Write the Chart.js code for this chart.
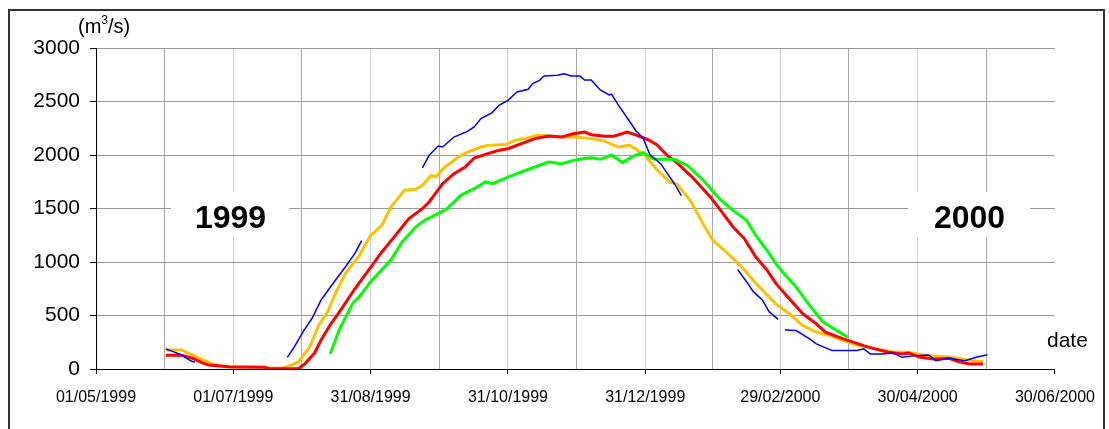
<!DOCTYPE html>
<html>
<head>
<meta charset="utf-8">
<script src="https://cdn.jsdelivr.net/npm/chart.js@4.4.1/dist/chart.umd.min.js"></script>
<style>
  html, body { margin: 0; padding: 0; background: #fff; }
  canvas { display: block; }
</style>
</head>
<body>
<canvas id="flow" width="1109" height="429"></canvas>
<script>
// days counted from 01/05/1999
const majorDays = [0, 61, 122, 183, 244, 304, 365, 426];
const minorDays = [30.5, 91.5, 152.5, 213.5, 274, 334.5, 395.5];
const tickLabels = ['01/05/1999', '01/07/1999', '31/08/1999', '31/10/1999', '31/12/1999', '29/02/2000', '30/04/2000', '30/06/2000'];
const yearLabels = ['1999', '2000'];

const blueDays = [31, 34, 38, 41, 43, 44, 60,
    85, 88, 92, 96, 100, 106, 111, 115, 118, 130,
    145, 148, 152, 154, 159, 165, 168, 171, 176, 179, 183, 187, 192, 194, 197, 199, 205, 208, 211, 215, 217, 220, 224, 228, 229, 232, 236, 240, 243, 246, 251, 254, 257, 260, 270,
    285, 289, 292, 296, 299, 303, 304.5,
    306, 311, 317, 320, 327, 338, 341, 344, 349, 354, 358, 364, 370, 373, 379, 386, 391, 396];
const blueFlow = [187, 165, 131, 90, 68, 68, null,
    109, 203, 349, 474, 645, 820, 960, 1080, 1200, null,
    1879, 1997, 2084, 2075, 2168, 2221, 2262, 2340, 2396, 2464, 2511, 2589, 2614, 2667, 2698, 2738, 2745, 2760, 2738, 2738, 2701, 2701, 2608, 2562, 2568, 2469, 2346, 2222, 2160, 2006, 1914, 1821, 1729, 1620, null,
    930, 816, 723, 645, 536, 464, null,
    364, 359, 281, 234, 172, 172, 188, 141, 141, 150, 109, 125, 131, 78, 100, 78, 109, 134];

const orangeDays = [31, 38, 46, 53, 59, 70, 83, 86, 90, 95, 99, 103, 106, 111, 117, 122, 127, 131, 134, 137, 142, 145, 149, 151, 155, 161, 165, 171, 174, 182, 186, 192, 196, 206, 213, 220, 226, 232, 237, 241, 244, 249, 255, 258, 264, 270, 274, 279, 283, 288, 293, 298, 302, 308, 314, 320, 326, 332, 339, 346, 355, 361, 369, 376, 383, 389, 394];
const orangeFlow = [178, 178, 100, 37, 16, 8, 10, 28, 68, 209, 411, 536, 690, 900, 1060, 1249, 1343, 1514, 1592, 1670, 1679, 1717, 1810, 1794, 1888, 1981, 2028, 2075, 2090, 2097, 2137, 2159, 2184, 2168, 2168, 2153, 2130, 2074, 2093, 2037, 1991, 1867, 1744, 1729, 1574, 1343, 1204, 1111, 1034, 926, 803, 695, 609, 516, 406, 344, 313, 266, 219, 188, 156, 156, 125, 116, 100, 78, 69];

const redDays = [31, 38, 43, 47, 50, 59, 75, 77, 90, 93, 97, 100, 104, 109, 115, 122, 127, 133, 139, 145, 148, 154, 159, 164, 168, 174, 179, 183, 189, 195, 201, 207, 212, 217, 220, 226, 230, 236, 240, 245, 249, 254, 258, 265, 273, 277, 283, 288, 293, 298, 302, 308, 314, 320, 324, 332, 341, 346, 352, 358, 361, 366, 372, 379, 383, 388, 394];
const redFlow = [128, 128, 100, 60, 37, 22, 16, 3, 3, 53, 147, 271, 411, 560, 750, 950, 1094, 1249, 1405, 1499, 1561, 1732, 1826, 1888, 1972, 2013, 2044, 2059, 2106, 2153, 2178, 2168, 2199, 2215, 2190, 2176, 2176, 2215, 2185, 2145, 2099, 1991, 1929, 1790, 1605, 1497, 1327, 1219, 1050, 926, 800, 656, 516, 422, 344, 281, 219, 188, 156, 141, 150, 109, 94, 100, 69, 47, 47];

const greenDays = [104, 108, 114, 117, 122, 131, 136, 142, 146, 152, 156, 162, 168, 173, 176, 183, 189, 195, 201, 207, 212, 217, 220, 224, 229, 234, 238, 243, 248, 257, 263, 270, 277, 283, 289, 293, 298, 302, 305, 311, 317, 323, 329, 334];
const greenFlow = [140, 364, 614, 676, 816, 1019, 1187, 1327, 1390, 1452, 1499, 1623, 1685, 1748, 1732, 1794, 1841, 1888, 1935, 1919, 1950, 1968, 1975, 1960, 2000, 1929, 1982, 2022, 1960, 1960, 1898, 1759, 1590, 1482, 1389, 1250, 1110, 985, 906, 766, 594, 438, 359, 297];

const FONT = "'Liberation Sans', Arial, sans-serif";

function points(days, flow) {
    return days.map((d, i) => ({ x: d, y: flow[i] }));
}

function lineSet(days, flow, color, width) {
    return {
        data: points(days, flow),
        borderColor: color,
        borderWidth: width,
        pointRadius: 0,
        tension: 0,
        spanGaps: false,
        fill: false
    };
}

const decorations = {
    id: 'decorations',
    beforeDatasetsDraw(chart) {
        const ctx = chart.ctx;
        ctx.save();
        ctx.fillStyle = '#fff';
        ctx.fillRect(171, 192, 118, 45);
        ctx.fillRect(908, 192, 122, 45);
        ctx.fillStyle = '#000';
        ctx.font = 'bold 32px ' + FONT;
        ctx.textAlign = 'center';
        ctx.textBaseline = 'alphabetic';
        ctx.fillText(yearLabels[0], 230.5, 228);
        ctx.fillText(yearLabels[1], 969.5, 228);
        ctx.restore();
    },
    afterDraw(chart) {
        const ctx = chart.ctx;
        ctx.save();
        ctx.strokeStyle = '#333';
        ctx.lineWidth = 2;
        ctx.strokeRect(9, 10, 1095, 440);
        ctx.fillStyle = '#000';
        ctx.font = '20px ' + FONT;
        ctx.textBaseline = 'alphabetic';
        ctx.textAlign = 'left';
        ctx.fillText('(m', 78, 33);
        const w = ctx.measureText('(m').width;
        ctx.font = '12px ' + FONT;
        ctx.fillText('3', 78 + w, 24);
        const w2 = ctx.measureText('3').width;
        ctx.font = '20px ' + FONT;
        ctx.fillText('/s)', 78 + w + w2, 33);
        ctx.font = '21px ' + FONT;
        ctx.fillText('date', 1047, 347);
        ctx.restore();
    }
};

new Chart(document.getElementById('flow'), {
    type: 'line',
    data: {
        datasets: [
            lineSet(blueDays, blueFlow, '#0000FF', 1.5),
            lineSet(greenDays, greenFlow, '#00FF00', 3),
            lineSet(redDays, redFlow, '#FF0000', 3),
            lineSet(orangeDays, orangeFlow, '#FFC000', 3)
        ]
    },
    options: {
        responsive: false,
        animation: false,
        devicePixelRatio: 1,
        layout: { padding: { top: 48, right: 49, bottom: 0, left: 0 } },
        plugins: { legend: { display: false }, tooltip: { enabled: false } },
        scales: {
            x: {
                type: 'linear',
                min: 0,
                max: 426,
                afterBuildTicks: (scale) => {
                    scale.ticks = majorDays.concat(minorDays).sort((a, b) => a - b).map(v => ({ value: v }));
                },
                afterFit: (scale) => { scale.height = 60; },
                border: { color: '#000', width: 1 },
                grid: {
                    color: (c) => {
                        const v = c.tick ? c.tick.value : 0;
                        if (v === 426) return 'rgba(0,0,0,0)';
                        return majorDays.includes(v) ? '#cfcfcf' : '#a9a9a9';
                    },
                    tickColor: (c) => (c.tick && majorDays.includes(c.tick.value)) ? '#000' : 'rgba(0,0,0,0)',
                    tickLength: 5
                },
                ticks: {
                    autoSkip: false,
                    maxRotation: 0,
                    padding: 14,
                    color: '#000',
                    font: { family: FONT, size: 16 },
                    callback: (v) => {
                        const i = majorDays.indexOf(v);
                        return i >= 0 ? tickLabels[i] : '';
                    }
                }
            },
            y: {
                min: 0,
                max: 3000,
                afterFit: (scale) => { scale.width = 96; },
                border: { color: '#000', width: 1 },
                grid: { color: '#999', tickColor: '#000', tickLength: 6 },
                ticks: {
                    stepSize: 500,
                    padding: 10,
                    color: '#000',
                    font: { family: FONT, size: 21 },
                    callback: (v) => String(v)
                }
            }
        }
    },
    plugins: [decorations]
});
</script>
</body>
</html>
